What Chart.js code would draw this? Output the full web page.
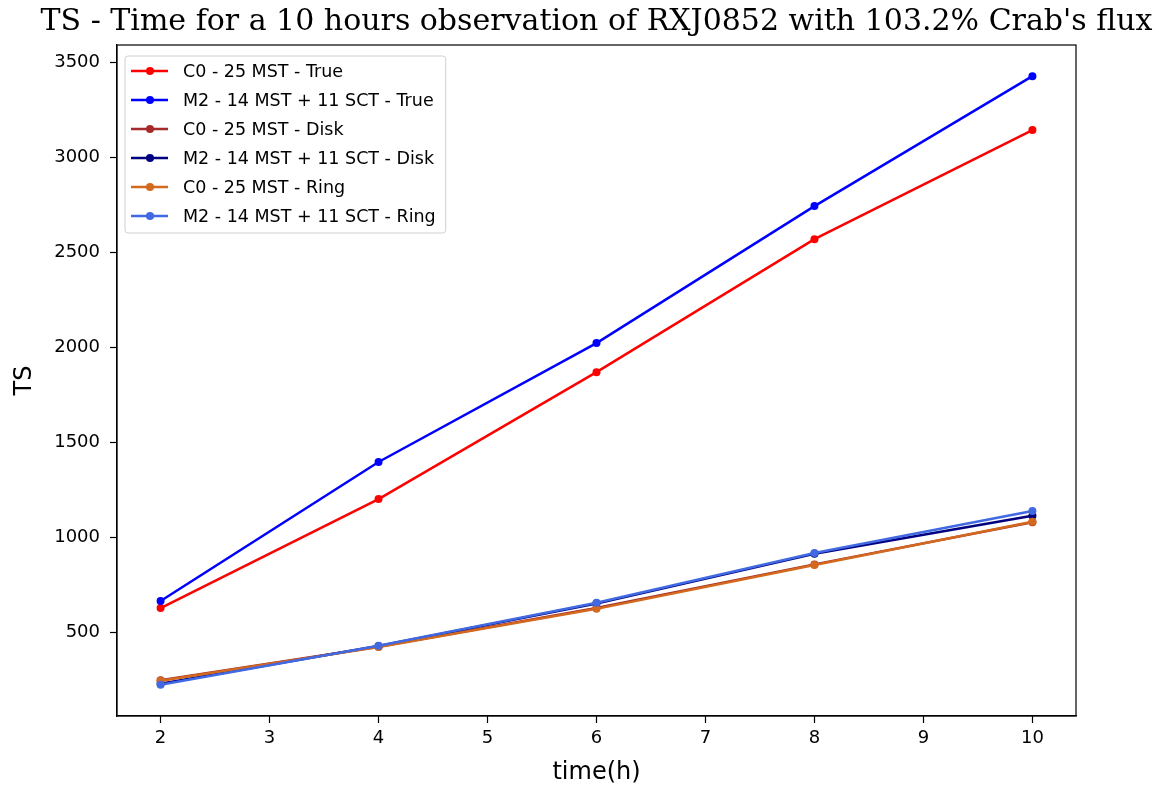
<!DOCTYPE html>
<html>
<head>
<meta charset="utf-8">
<script src="https://cdn.jsdelivr.net/npm/chart.js@4.4.1/dist/chart.umd.min.js"></script>
<style>
  html, body { margin: 0; padding: 0; background: #fff; }
  #wrap { width: 1159px; height: 785px; }
</style>
</head>
<body>
<div id="wrap"><canvas id="tsChart" width="1159" height="785"></canvas></div>
<script>
// data
const hours = [2, 4, 6, 8, 10];
const c0True = [626, 1200, 1868, 2568, 3142];
const m2True = [663, 1395, 2021, 2742, 3426];
const c0Disk = [246, 423, 626, 856, 1078];
const m2Disk = [228, 426, 650, 912, 1112];
const c0Ring = [244, 421, 622, 853, 1080];
const m2Ring = [222, 428, 654, 916, 1137];

const seriesLabels = [
    'C0 - 25 MST - True',
    'M2 - 14 MST + 11 SCT - True',
    'C0 - 25 MST - Disk',
    'M2 - 14 MST + 11 SCT - Disk',
    'C0 - 25 MST - Ring',
    'M2 - 14 MST + 11 SCT - Ring'
];
const seriesValues = [c0True, m2True, c0Disk, m2Disk, c0Ring, m2Ring];
const seriesColors = ['#ff0000', '#0000ff', '#a52a2a', '#000080', '#d2691e', '#4169e1'];

const xTicks = [2, 3, 4, 5, 6, 7, 8, 9, 10];
const yTicks = [500, 1000, 1500, 2000, 2500, 3000, 3500];
const chartTitle = "TS - Time for a 10 hours observation of RXJ0852 with 103.2% Crab's flux";

const datasets = seriesLabels.map((label, i) => ({
    label: label,
    data: hours.map((h, j) => ({ x: h, y: seriesValues[i][j] })),
    borderColor: seriesColors[i],
    backgroundColor: seriesColors[i],
    borderWidth: 2.5,
    pointRadius: 4,
    pointBorderWidth: 0,
    pointHoverRadius: 4,
    tension: 0,
    order: seriesLabels.length - i   // la derniere serie dessinee au-dessus
}));

// cadre noir autour de la zone du graphe + titre centre sur la zone
const framePlugin = {
    id: 'frame',
    afterDraw(chart) {
        const a = chart.chartArea;
        const ctx = chart.ctx;
        ctx.save();
        ctx.strokeStyle = '#000';
        ctx.lineWidth = 1.2;
        ctx.strokeRect(a.left, a.top, a.right - a.left, a.bottom - a.top);
        ctx.fillStyle = '#000';
        ctx.font = '30px "DejaVu Serif"';
        ctx.textAlign = 'center';
        ctx.textBaseline = 'middle';
        ctx.fillText(chartTitle, (a.left + a.right) / 2, 22);
        ctx.restore();
    }
};

// legende dans le coin haut gauche, comme matplotlib
const innerLegend = {
    id: 'innerLegend',
    afterDraw(chart) {
        const a = chart.chartArea;
        const ctx = chart.ctx;
        const x0 = a.left + 8, y0 = a.top + 11;
        const rowH = 29;
        const textX = x0 + 58;
        ctx.save();
        ctx.font = '17.5px "DejaVu Sans"';
        const dsList = chart.data.datasets;
        const maxW = Math.max(...dsList.map(ds => ctx.measureText(ds.label).width));
        const w = textX + maxW + 10 - x0;
        const h = rowH * dsList.length + 3;
        ctx.fillStyle = 'rgba(255,255,255,0.8)';
        ctx.strokeStyle = '#d0d0d0';
        ctx.lineWidth = 1;
        ctx.beginPath();
        ctx.roundRect(x0, y0, w, h, 3);
        ctx.fill();
        ctx.stroke();
        ctx.textBaseline = 'middle';
        dsList.forEach((ds, i) => {
            const cy = y0 + 15 + i * rowH;
            ctx.strokeStyle = ds.borderColor;
            ctx.fillStyle = ds.borderColor;
            ctx.lineWidth = 2.5;
            ctx.beginPath();
            ctx.moveTo(x0 + 6, cy);
            ctx.lineTo(x0 + 43, cy);
            ctx.stroke();
            ctx.beginPath();
            ctx.arc(x0 + 25, cy, 4, 0, Math.PI * 2);
            ctx.fill();
            ctx.fillStyle = '#000';
            ctx.fillText(ds.label, textX, cy + 1);
        });
        ctx.restore();
    }
};

new Chart(document.getElementById('tsChart'), {
    type: 'line',
    data: { datasets: datasets },
    options: {
        responsive: false,
        animation: false,
        events: [],
        layout: { padding: { left: 0, right: 83, top: 45, bottom: 0 } },
        plugins: {
            legend: { display: false },
            tooltip: { enabled: false },
            title: { display: false }
        },
        scales: {
            x: {
                type: 'linear',
                min: 1.6,
                max: 10.4,
                afterBuildTicks: s => { s.ticks = xTicks.map(v => ({ value: v })); },
                afterFit: s => { s.height = 69; },
                grid: { display: true, drawOnChartArea: false, tickLength: 7, color: '#000', tickWidth: 1.2 },
                border: { color: '#000', width: 1.2 },
                ticks: { color: '#000', font: { family: '"DejaVu Sans"', size: 18 }, padding: 5 },
                title: {
                    display: true, text: 'time(h)', color: '#000',
                    font: { family: '"DejaVu Sans"', size: 24, lineHeight: 1 }, padding: { top: 0, bottom: 0 }
                }
            },
            y: {
                type: 'linear',
                min: 58,
                max: 3590,
                afterBuildTicks: s => { s.ticks = yTicks.map(v => ({ value: v })); },
                afterFit: s => { s.width = 117; },
                grid: { display: true, drawOnChartArea: false, tickLength: 7, color: '#000', tickWidth: 1.2 },
                border: { color: '#000', width: 1.2 },
                ticks: {
                    color: '#000', font: { family: '"DejaVu Sans"', size: 18 }, padding: 10,
                    callback: v => String(v)
                },
                title: {
                    display: true, text: 'TS', color: '#000',
                    font: { family: '"DejaVu Sans"', size: 24, lineHeight: 1.2 }, padding: { top: 10, bottom: 0 }
                }
            }
        }
    },
    plugins: [framePlugin, innerLegend]
});
</script>
</body>
</html>
